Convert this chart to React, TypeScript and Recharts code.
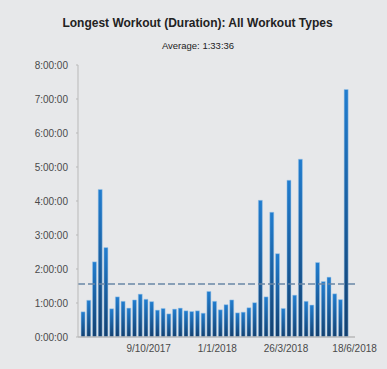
import React from 'react'
import {
    BarChart,
    Bar,
    XAxis,
    YAxis,
    ReferenceLine,
} from 'recharts';

// week start dates (d/m/yyyy), one bar per week
const weekStarts = [
    '17/7/2017', '24/7/2017', '31/7/2017', '7/8/2017', '14/8/2017', '21/8/2017', '28/8/2017',
    '4/9/2017', '11/9/2017', '18/9/2017', '25/9/2017', '2/10/2017', '9/10/2017', '16/10/2017',
    '23/10/2017', '30/10/2017', '6/11/2017', '13/11/2017', '20/11/2017', '27/11/2017', '4/12/2017',
    '11/12/2017', '18/12/2017', '25/12/2017', '1/1/2018', '8/1/2018', '15/1/2018', '22/1/2018',
    '29/1/2018', '5/2/2018', '12/2/2018', '19/2/2018', '26/2/2018', '5/3/2018', '12/3/2018',
    '19/3/2018', '26/3/2018', '2/4/2018', '9/4/2018', '16/4/2018', '23/4/2018', '30/4/2018',
    '7/5/2018', '14/5/2018', '21/5/2018', '28/5/2018', '4/6/2018',
]

// longest workout per week, in hours
const longestHours = [
    0.74, 1.08, 2.21, 4.34, 2.63, 0.83, 1.18, 1.05, 0.85, 1.09, 1.26, 1.11, 1.04, 0.79,
    0.84, 0.68, 0.82, 0.85, 0.77, 0.75, 0.77, 0.70, 1.34, 1.05, 0.80, 0.95, 1.09, 0.71,
    0.73, 0.86, 1.01, 4.02, 1.18, 3.67, 2.45, 0.84, 4.61, 1.23, 5.23, 1.05, 0.94, 2.19,
    1.63, 1.76, 1.27, 1.10, 7.28,
]

const xTickDates = ['9/10/2017', '1/1/2018', '26/3/2018', '18/6/2018']
const yTicks = [0, 1, 2, 3, 4, 5, 6, 7, 8]
const averageHours = 1.56 // 1:33:36

const toDay = (s: string) => {
    const [d, m, y] = s.split('/').map(Number)
    return Date.UTC(y, m - 1, d) / 86400000
}
const fromDay = (v: number) => {
    const dt = new Date(Math.round(v) * 86400000)
    return `${dt.getUTCDate()}/${dt.getUTCMonth() + 1}/${dt.getUTCFullYear()}`
}

const data = weekStarts.map((w, i) => ({ day: toDay(w) + 3.5, hours: longestHours[i] }))
const xTicks = xTickDates.map(toDay)

const font = '"Liberation Sans", Arial, Helvetica, sans-serif'

export default function App() {
    const first = toDay(weekStarts[0])
    const last = toDay(xTickDates[xTickDates.length - 1])
    return (
        <div style={{ position: 'fixed', left: 0, top: 0, width: 387, height: 369, background: '#e7e8ea', fontFamily: font }}>
            <div style={{ position: 'absolute', top: 16, width: 395, textAlign: 'center', fontSize: 12, fontWeight: 'bold', color: '#222' }}>
                Longest Workout (Duration): All Workout Types
            </div>
            <div style={{ position: 'absolute', top: 40, width: 396, textAlign: 'center', fontSize: 9.5, color: '#222' }}>
                Average: 1:33:36
            </div>
            <div style={{ position: 'absolute', left: 0, top: 0 }}>
                <BarChart width={387} height={369} data={data} margin={{ top: 65, right: 32, bottom: 2, left: 0 }}>
                    <defs>
                        <linearGradient id='barFill' x1='0' y1='0' x2='0' y2='1'>
                            <stop offset='0%' stopColor='#217dcf' />
                            <stop offset='100%' stopColor='#13406f' />
                        </linearGradient>
                    </defs>
                    <XAxis
                        dataKey='day'
                        type='number'
                        domain={[first - 2.5, last + 0.5]}
                        ticks={xTicks}
                        tickFormatter={fromDay}
                        tickLine={false}
                        axisLine={{ stroke: '#b9b9b9', strokeWidth: 1.5 }}
                        tick={{ fill: '#4a4a4a', fontSize: 10, fontFamily: font }}
                        height={30}
                        interval={0}
                    />
                    <YAxis
                        type='number'
                        domain={[0, 8]}
                        ticks={yTicks}
                        tickFormatter={h => `${h}:00:00`}
                        width={78}
                        tickSize={2}
                        tickMargin={8}
                        tickLine={{ stroke: '#b9b9b9' }}
                        axisLine={{ stroke: '#b9b9b9' }}
                        tick={{ fill: '#4a4a4a', fontSize: 10, fontFamily: font }}
                    />
                    <Bar dataKey='hours' barSize={4} fill='url(#barFill)' stroke='#9fc6e8' strokeWidth={0.5} isAnimationActive={false} />
                    <ReferenceLine y={averageHours} stroke='#6a87a7' strokeWidth={1.5} strokeDasharray='7 3' />
                </BarChart>
            </div>
        </div>
    )
}
